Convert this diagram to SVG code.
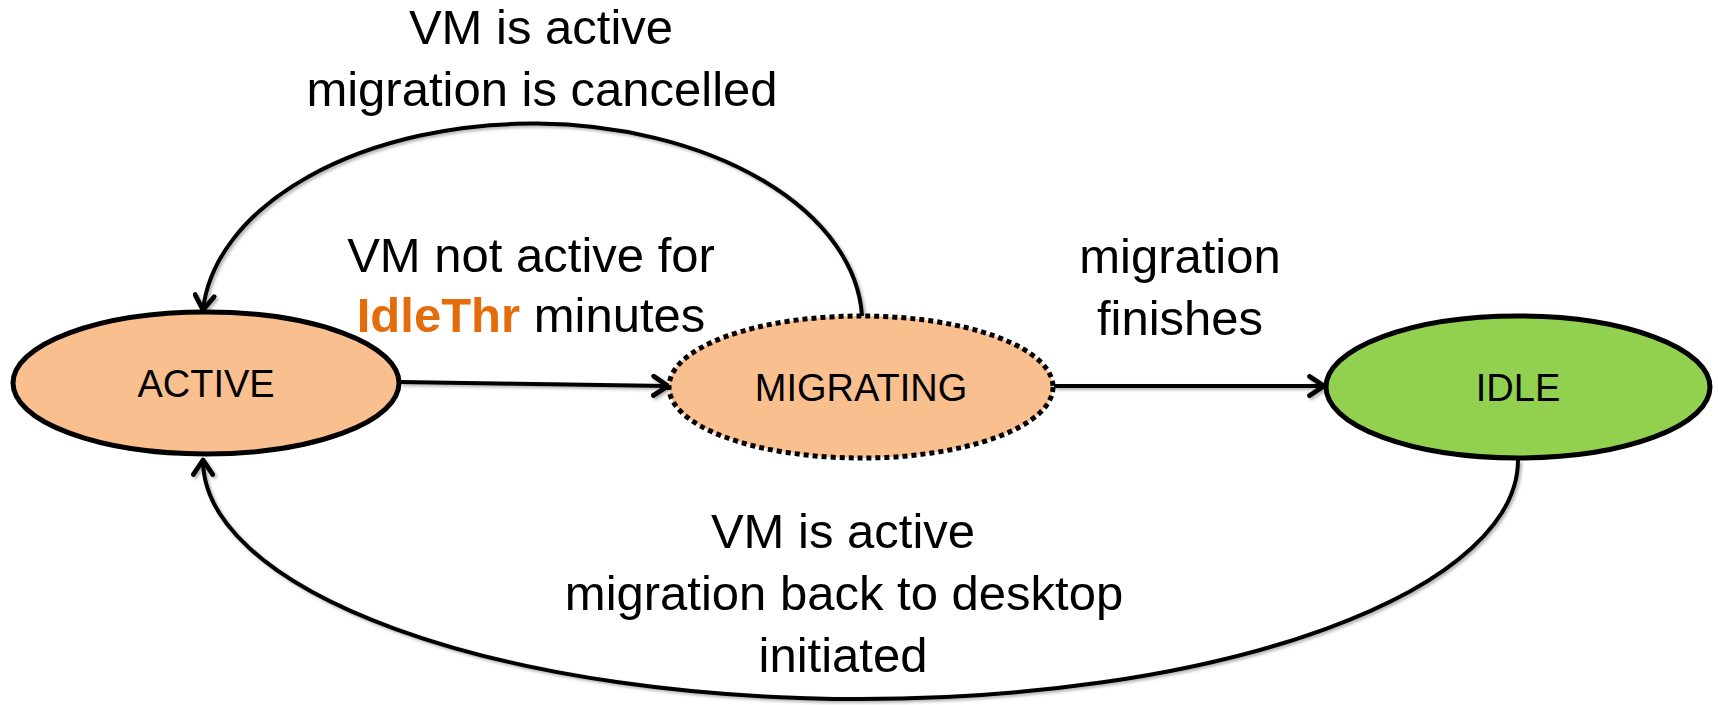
<svg xmlns="http://www.w3.org/2000/svg" width="1718" height="705" viewBox="0 0 1718 705">
<style>
  text { font-family: "Liberation Sans", Arial, sans-serif; fill: #000; text-anchor: middle; }
  .node { font-size: 38px; }
  .lbl { font-size: 49px; }
  .hl { fill: #E46C0A; font-weight: bold; }
  .orange { fill: #F9BF8F; stroke: #000; stroke-width: 5; }
  .green { fill: #92D050; stroke: #000; stroke-width: 5; }
  .dotted { stroke-dasharray: 5 4; }
  .conn { fill: none; stroke: #000; stroke-width: 4; marker-end: url(#arrow); }
</style>
<defs>
  <marker id="arrow" markerUnits="userSpaceOnUse" markerWidth="24" markerHeight="24" refX="16" refY="10" orient="auto" viewBox="0 0 20 20">
    <path d="M4,2 L16,10 L4,18" fill="none" stroke="#000" stroke-width="4" stroke-linecap="round" stroke-linejoin="round"/>
  </marker>
  <filter id="shadow" filterUnits="userSpaceOnUse" x="0" y="0" width="1718" height="705">
    <feDropShadow dx="2" dy="2" stdDeviation="1.5" flood-color="#000" flood-opacity="0.3"/>
  </filter>
</defs>

<g id="connectors" filter="url(#shadow)">
  <path class="conn" d="M400,382 L668,386"/>
  <path class="conn" d="M1054,386 L1324,386"/>
  <path class="conn" d="M862,316 A330 200 0 0 0 203,310"/>
  <path class="conn" d="M1518,460 A657 239 0 0 1 203,460"/>
</g>

<g id="node-active">
  <ellipse class="orange" cx="206" cy="383" rx="193" ry="71"/>
  <text class="node" x="206" y="397">ACTIVE</text>
</g>
<g id="node-migrating">
  <ellipse class="orange dotted" cx="861" cy="387" rx="192" ry="71"/>
  <text class="node" x="861" y="401">MIGRATING</text>
</g>
<g id="node-idle">
  <ellipse class="green" cx="1518" cy="387" rx="192" ry="71"/>
  <text class="node" x="1518" y="401">IDLE</text>
</g>

<g id="labels">
  <text class="lbl" x="541" y="44">VM is active</text>
  <text class="lbl" x="542" y="106">migration is cancelled</text>
  <text class="lbl" x="531" y="272">VM not active for</text>
  <text class="lbl" x="531" y="332"><tspan class="hl">IdleThr</tspan> minutes</text>
  <text class="lbl" x="1180" y="273">migration</text>
  <text class="lbl" x="1180" y="335">finishes</text>
  <text class="lbl" x="843" y="548">VM is active</text>
  <text class="lbl" x="844" y="610">migration back to desktop</text>
  <text class="lbl" x="843" y="672">initiated</text>
</g>
</svg>
